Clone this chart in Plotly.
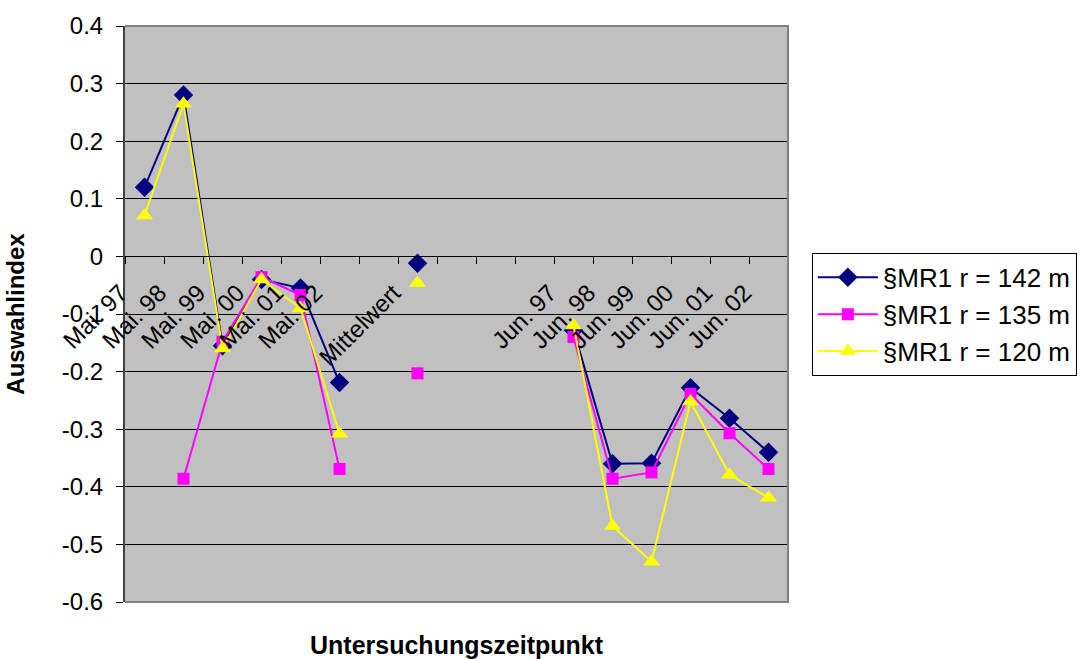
import plotly.graph_objects as go

# ---- data ----
categories = ["Mai. 97", "Mai. 98", "Mai. 99", "Mai. 00", "Mai. 01", "Mai. 02",
              " ", "Mittelwert", "  ", "   ", "    ",
              "Jun. 97", "Jun. 98", "Jun. 99", "Jun. 00", "Jun. 01", "Jun. 02"]

series_names = ["§MR1 r = 142 m", "§MR1 r = 135 m", "§MR1 r = 120 m"]

r142 = [0.12, 0.28, -0.155, -0.04, -0.055, -0.219,
        None, -0.012, None, None, None,
        -0.128, -0.36, -0.359, -0.228, -0.281, -0.34]
r135 = [None, -0.386, -0.148, -0.036, -0.067, -0.369,
        None, -0.203, None, None, None,
        -0.14, -0.386, -0.375, -0.239, -0.307, -0.369]
r120 = [0.071, 0.265, -0.16, -0.04, -0.09, -0.308,
        None, -0.046, None, None, None,
        -0.12, -0.468, -0.53, -0.252, -0.379, -0.419]

y_ticks = [-0.6, -0.5, -0.4, -0.3, -0.2, -0.1, 0, 0.1, 0.2, 0.3, 0.4]
y_tick_labels = ["-0.6", "-0.5", "-0.4", "-0.3", "-0.2", "-0.1", "0", "0.1", "0.2", "0.3", "0.4"]

# ---- styling ----
FONT = "Arial, 'Liberation Sans', sans-serif"
styles = [
    dict(color="#000080", symbol="diamond", size=15),
    dict(color="#FF00FF", symbol="square", size=12),
    dict(color="#FFFF00", symbol="triangle-up", size=15),
]

fig = go.Figure()
for name, vals, st in zip(series_names, [r142, r135, r120], styles):
    fig.add_trace(go.Scatter(
        x=categories, y=vals, name=name, mode="lines+markers",
        connectgaps=False,
        line=dict(color=st["color"], width=2),
        marker=dict(color=st["color"], symbol=st["symbol"], size=st["size"],
                    line=dict(color=st["color"], width=0)),
    ))

fig.update_layout(
    width=1091, height=659, autosize=False,
    margin=dict(l=125, r=303, t=24, b=57),
    paper_bgcolor="white", plot_bgcolor="#C0C0C0",
    font=dict(family=FONT, color="black", size=24),
    showlegend=True,
    legend=dict(x=1.036, y=0.606, xanchor="left", yanchor="top",
                bordercolor="black", borderwidth=1, bgcolor="white",
                font=dict(size=26, family=FONT), itemwidth=60),
    xaxis=dict(type="category", categoryorder="array", categoryarray=categories,
               range=[-0.5, len(categories) - 0.5],
               anchor="free", position=0.6,
               showline=True, linecolor="black", linewidth=1,
               ticks="outside", ticklen=7, tickcolor="black", tickson="boundaries",
               tickangle=-45, tickfont=dict(size=24, family=FONT),
               ticklabelshift=-24, ticklabelstandoff=12,
               showgrid=False, zeroline=False),
    yaxis=dict(range=[-0.6, 0.4], tickmode="array", tickvals=y_ticks, ticktext=y_tick_labels,
               showgrid=True, gridcolor="black", gridwidth=1, zeroline=False,
               showline=True, linecolor="#404040", linewidth=2,
               ticks="outside", ticklen=7, tickcolor="black",
               tickfont=dict(size=24, family=FONT), ticklabelstandoff=8,
               title=dict(text="<b>Auswahlindex</b>", font=dict(size=24, family=FONT), standoff=30)),
    shapes=[dict(type="path", xref="paper", yref="paper",
                 path="M 0,1 L 1,1 L 1,0 L 0,0",
                 line=dict(color="#808080", width=2), layer="above")],
    annotations=[dict(text="<b>Untersuchungszeitpunkt</b>", xref="paper", yref="paper",
                      x=0.5, y=-0.0744, xanchor="center", yanchor="middle",
                      showarrow=False, font=dict(size=25, family=FONT))],
)

fig.write_html("out.html")
